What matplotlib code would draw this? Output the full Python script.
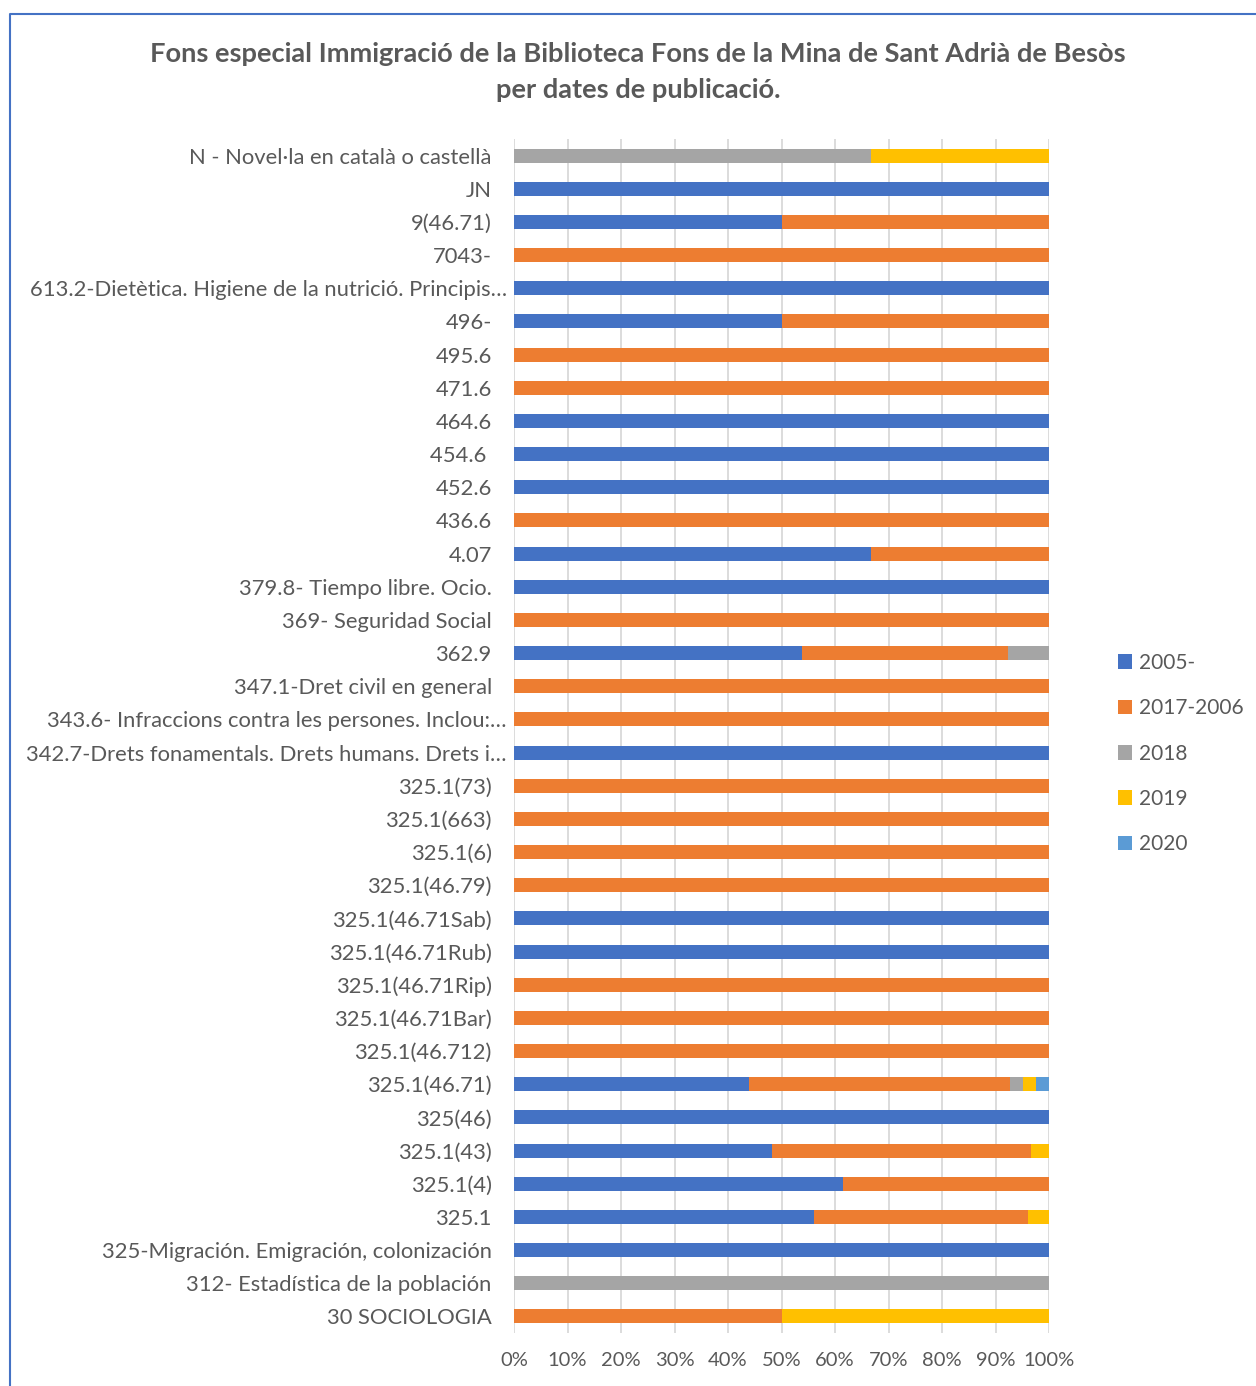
import numpy as np
import matplotlib.pyplot as plt
import matplotlib.transforms as mtransforms
from matplotlib.lines import Line2D

# categories, top to bottom as shown
categories = [
    "N - Novel·la en català o castellà",
    "JN",
    "9(46.71)",
    "7043-",
    "613.2-Dietètica. Higiene de la nutrició. Principis…",
    "496-",
    "495.6",
    "471.6",
    "464.6",
    "454.6 ",
    "452.6",
    "436.6",
    "4.07",
    "379.8- Tiempo libre. Ocio.",
    "369- Seguridad Social",
    "362.9",
    "347.1-Dret civil en general",
    "343.6- Infraccions contra les persones. Inclou:…",
    "342.7-Drets fonamentals. Drets humans. Drets i…",
    "325.1(73)",
    "325.1(663)",
    "325.1(6)",
    "325.1(46.79)",
    "325.1(46.71Sab)",
    "325.1(46.71Rub)",
    "325.1(46.71Rip)",
    "325.1(46.71Bar)",
    "325.1(46.712)",
    "325.1(46.71)",
    "325(46)",
    "325.1(43)",
    "325.1(4)",
    "325.1",
    "325-Migración. Emigración, colonización",
    "312- Estadística de la población",
    "30 SOCIOLOGIA",
]

# number of titles per publication period (same order as categories)
y2005 = [0, 1, 1, 0, 1, 1, 0, 0, 1, 1, 1, 0, 2, 1, 0, 7, 0, 0, 1, 0, 0, 0, 0, 1, 1, 0, 0, 0, 18, 1, 14, 8, 14, 1, 0, 0]
y2017_2006 = [0, 0, 1, 1, 0, 1, 1, 1, 0, 0, 0, 1, 1, 0, 1, 5, 1, 1, 0, 1, 1, 1, 1, 0, 0, 1, 1, 1, 20, 0, 14, 5, 10, 0, 0, 1]
y2018 = [2, 0, 0, 0, 0, 0, 0, 0, 0, 0, 0, 0, 0, 0, 0, 1, 0, 0, 0, 0, 0, 0, 0, 0, 0, 0, 0, 0, 1, 0, 0, 0, 0, 0, 1, 0]
y2019 = [1, 0, 0, 0, 0, 0, 0, 0, 0, 0, 0, 0, 0, 0, 0, 0, 0, 0, 0, 0, 0, 0, 0, 0, 0, 0, 0, 0, 1, 0, 1, 0, 1, 0, 0, 1]
y2020 = [0, 0, 0, 0, 0, 0, 0, 0, 0, 0, 0, 0, 0, 0, 0, 0, 0, 0, 0, 0, 0, 0, 0, 0, 0, 0, 0, 0, 1, 0, 0, 0, 0, 0, 0, 0]

series_names = ["2005-", "2017-2006", "2018", "2019", "2020"]
colors = ["#4472C4", "#ED7D31", "#A5A5A5", "#FFC000", "#5B9BD5"]

W, H = 1256, 1386
plt.rcParams['font.family'] = ['Lato', 'DejaVu Sans']
text_color = "#595959"

fig = plt.figure(figsize=(W / 100, H / 100), dpi=100)
ax = fig.add_axes((514 / W, 1 - 1333 / H, (1049 - 514) / W, (1333 - 139) / H))

data = np.array([y2005, y2017_2006, y2018, y2019, y2020], dtype=float)
share = data / data.sum(axis=0)
ypos = np.arange(len(categories))

left = np.zeros(len(categories))
handles = []
for i, name in enumerate(series_names):
    b = ax.barh(ypos, share[i], left=left, height=0.42, color=colors[i],
                label=name, zorder=3)
    left += share[i]
    handles.append(b)

ax.set_ylim(len(categories) - 0.5, -0.5)
ax.set_xlim(0, 1)
ax.set_xticks(np.linspace(0, 1, 11))
ax.set_xticklabels([f"{int(round(v * 100))}%" for v in np.linspace(0, 1, 11)])
ax.set_yticks(ypos)
ax.set_yticklabels(categories)

ax.grid(axis='x', color="#D9D9D9", linewidth=1.3, zorder=0)
for s in ax.spines.values():
    s.set_visible(False)
ax.tick_params(axis='both', length=0, colors=text_color)
ax.tick_params(axis='x', pad=14, labelsize=14.5)
ax.tick_params(axis='y', pad=16, labelsize=15.8)

# truncated labels reach a bit further right, as in Excel
shift = mtransforms.ScaledTranslation(15 / 100, 0, fig.dpi_scale_trans)
for lbl in ax.get_yticklabels():
    if lbl.get_text().endswith("…"):
        lbl.set_transform(lbl.get_transform() + shift)

# title
fig.text(638 / W, 1 - 54 / H, "Fons especial Immigració de la Biblioteca Fons de la Mina de Sant Adrià de Besòs",
         ha='center', va='center', fontsize=19.6, fontweight='bold', color=text_color)
fig.text(638 / W, 1 - 90 / H, "per dates de publicació.",
         ha='center', va='center', fontsize=19.6, fontweight='bold', color=text_color)

# legend
fig.legend(handles=handles, labels=series_names, loc='upper left',
           bbox_to_anchor=(1099 / W, 1 - 634 / H), frameon=False,
           fontsize=15, labelcolor=text_color, handlelength=0.7,
           handleheight=0.7, handletextpad=0.3, labelspacing=1.22)

# chart border (left and top edges visible)
fig.add_artist(Line2D([10 / W, 10 / W, 1.0], [0.0, 1 - 14 / H, 1 - 14 / H],
                      transform=fig.transFigure, color="#4472C4", linewidth=1.5))

fig.savefig("out.png", dpi=100)
